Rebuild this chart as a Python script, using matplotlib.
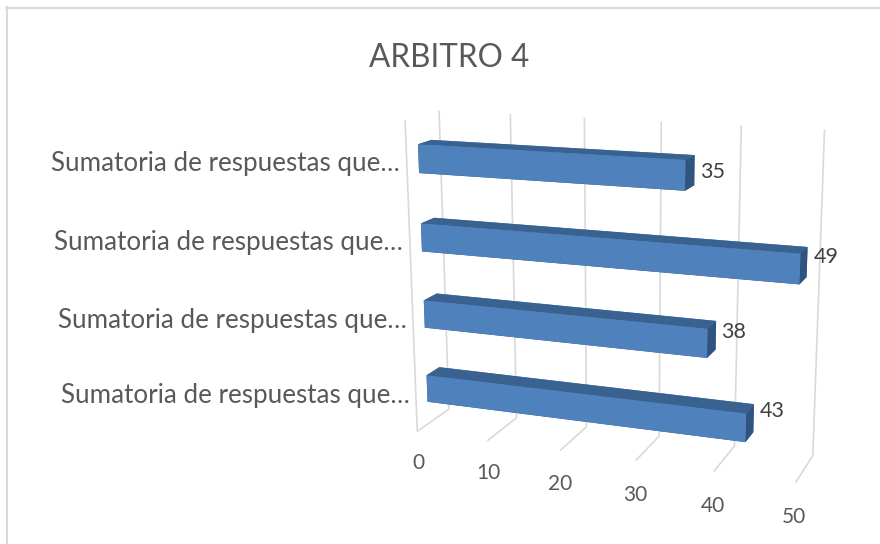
import matplotlib as mp
# Headless
mp.use('Agg')

import numpy as np
import matplotlib.pyplot as plt
from matplotlib.axes import Axes
from matplotlib.lines import Line2D
from mpl_toolkits.mplot3d import proj3d
from mpl_toolkits.mplot3d.art3d import Line3DCollection

plt.rcParams['font.family'] = ['Lato', 'DejaVu Sans']

title = 'ARBITRO 4'
categories = ['Sumatoria de respuestas que…'] * 4
values = [43, 38, 49, 35]  # bottom to top
ticks = [0, 10, 20, 30, 40, 50]

W, H = 880, 544

# camera: (value, depth, height) -> pixel, fitted on the gridline ends
world = [(0, 0, 0), (10, 0, 0), (20, 0, 0), (40, 0, 0), (50, 0, 0),
         (0, 1, 0), (10, 1, 0), (20, 1, 0), (40, 1, 0), (50, 1, 0),
         (0, 0, 4), (0, 1, 4), (10, 1, 4), (20, 1, 4), (30, 1, 4), (40, 1, 4), (50, 1, 4)]
pixels = [(417, 431), (487, 441), (560, 451), (713, 472), (796, 482),
          (449, 410), (517, 417), (587, 426), (734, 446), (813, 456),
          (406, 120), (438, 112), (510, 113), (585, 117), (661, 121), (742, 126), (824, 130)]

rows, rhs = [], []
for (a, b, c), (px, py) in zip(world, pixels):
    py = H - py
    rows.append([a, b, c, 1, 0, 0, 0, 0, -px * a, -px * b, -px * c])
    rhs.append(px)
    rows.append([0, 0, 0, 0, a, b, c, 1, -py * a, -py * b, -py * c])
    rhs.append(py)
p = np.linalg.lstsq(np.array(rows, float), np.array(rhs, float), rcond=None)[0]
cam = np.array([p[:4], p[4:8], [0, 1, 0, 0], [p[8], p[9], p[10], 1]])

fig = plt.figure(figsize=(W / 100, H / 100), dpi=100)
ax = fig.add_axes([0, 0, 1, 1], projection='3d')
ax.get_proj = lambda: cam
ax.apply_aspect = lambda position=None: None
ax.viewLim.intervalx = (0, W)
ax.viewLim.intervaly = (0, H)
ax.computed_zorder = False
ax.set_xticks([])
ax.set_yticks([])
ax.set_zticks([])
ax.set_axis_off()


def label(x, y, z, s, **kw):
    # plain 2d text at the projected spot
    px, py, _ = proj3d.proj_transform(x, y, z, cam)
    Axes.text(ax, float(px), float(py), s, va='center', zorder=3, **kw)


# chart border, only left and top are in the picture
grid = '#D9D9D9'
fig.add_artist(Line2D([7 / W, 7 / W], [0, 1 - 7 / H], color=grid, lw=1.5))
fig.add_artist(Line2D([6 / W, 1], [1 - 7.5 / H, 1 - 7.5 / H], color=grid, lw=1.5))

segs = [[(0, 0, 0), (0, 0, 4)]]
for t in ticks:
    segs.append([(t, 0, 0), (t, 1, 0)])
    segs.append([(t, 1, 0), (t, 1, 4)])
    label(t, 0, -0.44, str(t), color='#595959', fontsize=15, ha='center')
ax.add_collection3d(Line3DCollection(segs, colors=grid, linewidths=1.2, zorder=1))

front, top, side = '#4F81BD', '#3A6291', '#2F5480'
value_lift = [0.60, 0.54, 0.56, 0.47]
for i, v in enumerate(values):
    ax.bar3d(0, 0.34, i + 0.3, v, 0.4, 0.36, shade=False, zorder=2 + i * 0.01,
             color=[side, top, front, front, top, side])
    label(v + 0.8, 0.7, i + value_lift[i], str(v), color='#404040', fontsize=15.5, ha='left')
    label(-0.95, 0, i + 0.47, categories[i], color='#595959', fontsize=18.7, ha='right')

fig.text(449 / W, 1 - 58 / H, title, color='#595959', fontsize=22.7, ha='center', va='center')

plt.savefig('out.png', dpi=100)
